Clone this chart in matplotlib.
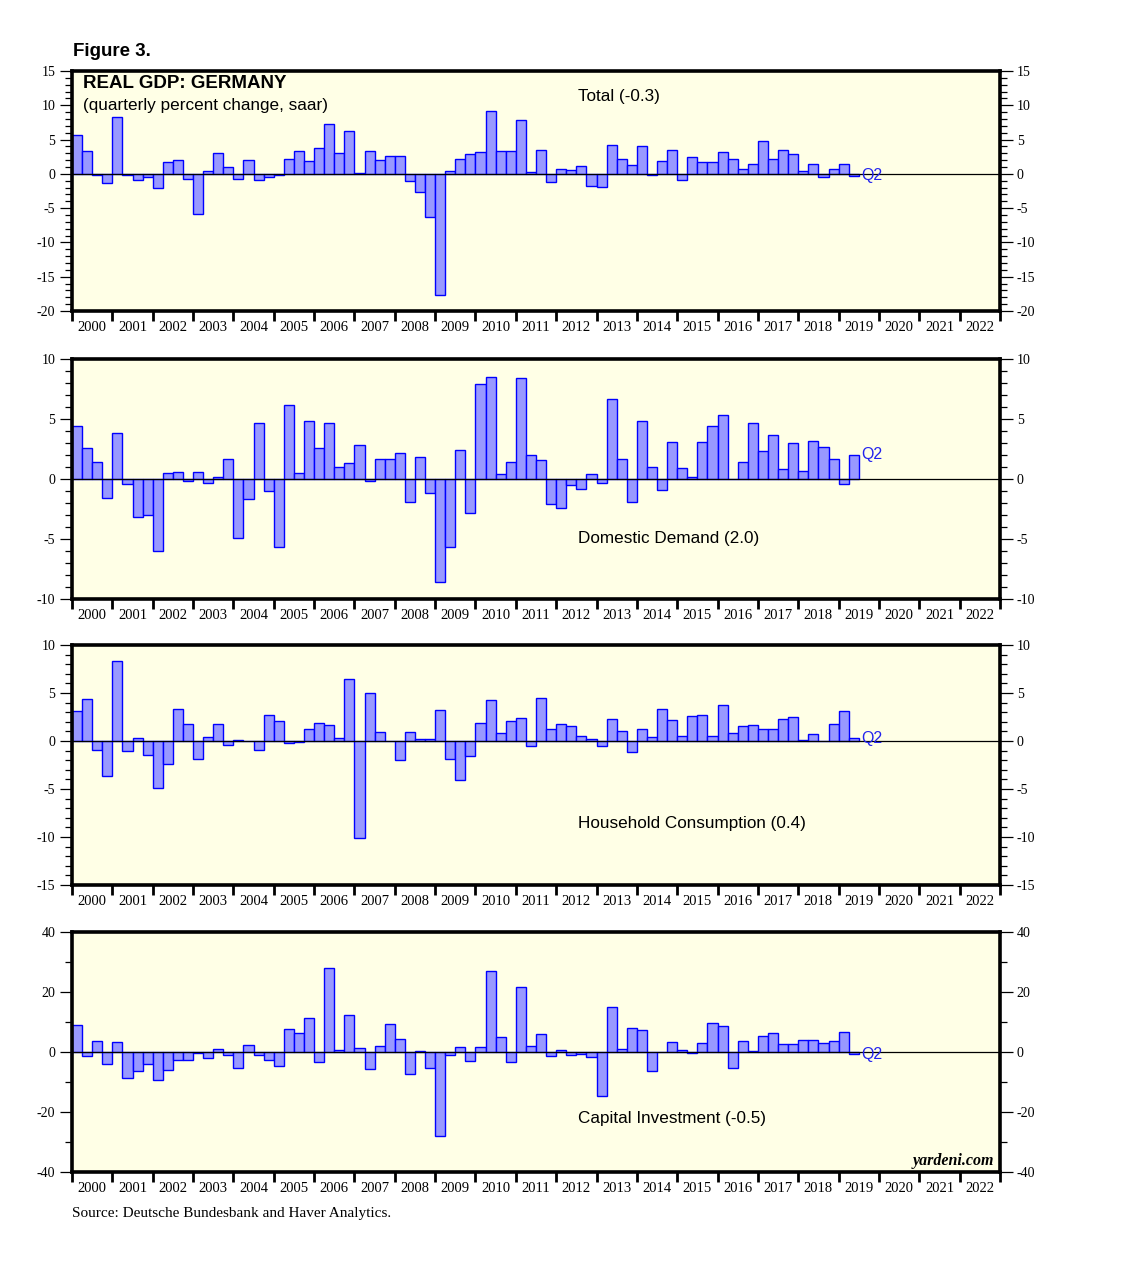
import numpy as np
import matplotlib
matplotlib.use("Agg")
import matplotlib.pyplot as plt
from matplotlib.ticker import MultipleLocator, FixedLocator, NullFormatter

plt.rcParams["axes.unicode_minus"] = False

# quarterly percent change, saar, 2000Q1 .. 2019Q2
total = [5.7, 3.4, -0.1, -1.3, 8.3, -0.1, -0.9, -0.5, -2.0, 1.8, 2.0, -0.7,
         -5.9, 0.4, 3.1, 1.0, -0.7, 2.0, -0.9, -0.4, -0.1, 2.2, 3.4, 1.9,
         3.8, 7.2, 3.1, 6.3, 0.1, 3.4, 2.0, 2.6, 2.6, -1.0, -2.6, -6.3,
         -17.6, 0.4, 2.2, 2.9, 3.2, 9.2, 3.4, 3.4, 7.9, 0.3, 3.5, -1.2,
         0.7, 0.6, 1.2, -1.7, -1.9, 4.2, 2.2, 1.3, 4.0, -0.1, 1.9, 3.5,
         -0.9, 2.5, 1.8, 1.8, 3.2, 2.2, 0.7, 1.5, 4.8, 2.2, 3.5, 2.9,
         0.4, 1.5, -0.4, 0.7, 1.5, -0.3]

domestic = [4.4, 2.6, 1.4, -1.6, 3.8, -0.45, -3.2, -3.0, -6.0, 0.5, 0.6, -0.2,
            0.6, -0.3, 0.15, 1.7, -4.9, -1.7, 4.65, -1.0, -5.7, 6.2, 0.5, 4.8,
            2.6, 4.65, 1.0, 1.3, 2.8, -0.2, 1.7, 1.7, 2.2, -1.95, 1.8, -1.2,
            -8.55, -5.7, 2.4, -2.8, 7.9, 8.5, 0.4, 1.4, 8.4, 2.0, 1.6, -2.1,
            -2.4, -0.5, -0.8, 0.4, -0.3, 6.7, 1.7, -1.95, 4.8, 1.0, -0.9, 3.1,
            0.9, 0.15, 3.1, 4.4, 5.3, 0.0, 1.4, 4.65, 2.3, 3.7, 0.8, 3.0,
            0.65, 3.2, 2.7, 1.7, -0.45, 2.0]

consumption = [3.1, 4.4, -0.97, -3.6, 8.3, -1.07, 0.28, -1.5, -4.9, -2.4, 3.3, 1.8,
               -1.9, 0.38, 1.73, -0.45, 0.1, 0.0, -0.97, 2.66, 2.04, -0.24, -0.14, 1.2,
               1.83, 1.63, 0.28, 6.5, -10.1, 4.95, 0.9, 0.0, -2.0, 0.9, 0.17, 0.17,
               3.2, -1.9, -4.1, -1.6, 1.83, 4.3, 0.8, 2.04, 2.35, -0.55, 4.5, 1.2,
               1.73, 1.52, 0.48, 0.17, -0.55, 2.25, 1.0, -1.18, 1.3, 0.38, 3.3, 2.15,
               0.48, 2.56, 2.66, 0.48, 3.8, 0.8, 1.52, 1.63, 1.3, 1.2, 2.25, 2.45,
               0.1, 0.7, 0.0, 1.73, 3.1, 0.28]

investment = [9.1, -1.3, 3.7, -4.0, 3.3, -8.7, -6.3, -4.0, -9.3, -6.0, -2.7, -2.7,
              -0.3, -2.0, 1.0, -1.0, -5.3, 2.3, -1.0, -2.7, -4.7, 7.7, 6.3, 11.3,
              -3.3, 28.0, 0.7, 12.3, 1.3, -5.7, 2.0, 9.3, 4.3, -7.3, 0.3, -5.3,
              -28.0, -1.0, 1.7, -3.0, 1.7, 27.0, 5.0, -3.3, 21.7, 2.0, 6.0, -1.3,
              0.7, -1.0, -0.7, -1.7, -14.7, 15.0, 1.0, 8.0, 7.3, -6.3, 0.0, 3.3,
              0.7, -0.3, 3.0, 9.7, 8.7, -5.3, 3.7, 0.3, 5.3, 6.3, 2.7, 2.7,
              4.0, 4.0, 3.0, 3.7, 6.7, -0.7]

years = list(range(2000, 2023))
quarters = 2000 + np.arange(len(total)) * 0.25

labels = ["Total (-0.3)", "Domestic Demand (2.0)",
          "Household Consumption (0.4)", "Capital Investment (-0.5)"]
series = [total, domestic, consumption, investment]
ylims = [(-20, 15), (-10, 10), (-15, 10), (-40, 40)]
majors = [5, 5, 5, 20]
minors = [1, 1, 1, 10]
label_y = [0.892, 0.254, 0.257, 0.225]
tops = [71, 359, 645, 932]

W, H = 1138, 1273
fig = plt.figure(figsize=(W / 100, H / 100), dpi=100)
serif = "Liberation Serif"
sans = "Liberation Sans"

for i in range(4):
    top = tops[i]
    ax = fig.add_axes([72 / W, 1 - (top + 240) / H, 928 / W, 240 / H])
    ax.set_facecolor("#FFFFE6")
    vals = series[i]
    ax.bar(quarters, vals, width=0.25, align="edge", color="#9999FF",
           edgecolor="#0000FF", linewidth=1.0, zorder=2)
    ax.axhline(0, color="black", linewidth=0.9, zorder=3)
    ax.set_xlim(2000, 2023)
    ax.set_ylim(*ylims[i])

    for s in ax.spines.values():
        s.set_linewidth(2.6)

    ax.xaxis.set_major_locator(FixedLocator(years + [2023]))
    ax.xaxis.set_major_formatter(NullFormatter())
    ax.xaxis.set_minor_locator(FixedLocator([y + 0.5 for y in years]))
    ax.set_xticklabels([str(y) for y in years], minor=True)
    ax.tick_params(axis="x", which="major", direction="out", length=7,
                   width=2, top=False)
    ax.tick_params(axis="x", which="minor", length=0, pad=7.5,
                   labelsize=10.5)

    ax.yaxis.set_major_locator(MultipleLocator(majors[i]))
    ax.yaxis.set_minor_locator(MultipleLocator(minors[i]))
    ax.tick_params(axis="y", which="major", direction="out", length=9,
                   width=0.9, left=True, right=True, labelleft=True,
                   labelright=True, labelsize=10, pad=3)
    ax.tick_params(axis="y", which="minor", direction="out", length=5,
                   width=0.9, left=True, right=True)
    for lab in ax.get_xticklabels(minor=True) + ax.get_yticklabels():
        lab.set_fontfamily(serif)

    ax.text(0.545, label_y[i], labels[i], transform=ax.transAxes,
            fontsize=12.3, family=sans, va="center", ha="left")
    ax.text(quarters[-1] + 0.32, vals[-1], "Q2", color="#2222EE",
            fontsize=11.5, family=sans, va="center", ha="left", zorder=4)

    if i == 0:
        ax.text(0.012, 0.946, "REAL GDP: GERMANY", transform=ax.transAxes,
                fontsize=13.5, fontweight="bold", family=sans, va="center")
        ax.text(0.012, 0.858, "(quarterly percent change, saar)",
                transform=ax.transAxes, fontsize=12.3, family=sans, va="center")
    if i == 3:
        ax.text(0.994, 0.045, "yardeni.com", transform=ax.transAxes,
                fontsize=11.5, family=serif, style="italic", fontweight="bold",
                ha="right", va="center")

fig.text(73 / W, 1 - 52 / H, "Figure 3.", fontsize=13.5, fontweight="bold",
         family=sans, va="center")
fig.text(72 / W, 1 - 1214 / H, "Source: Deutsche Bundesbank and Haver Analytics.",
         fontsize=11, family=serif, va="center")

fig.savefig("out.png", dpi=100)
